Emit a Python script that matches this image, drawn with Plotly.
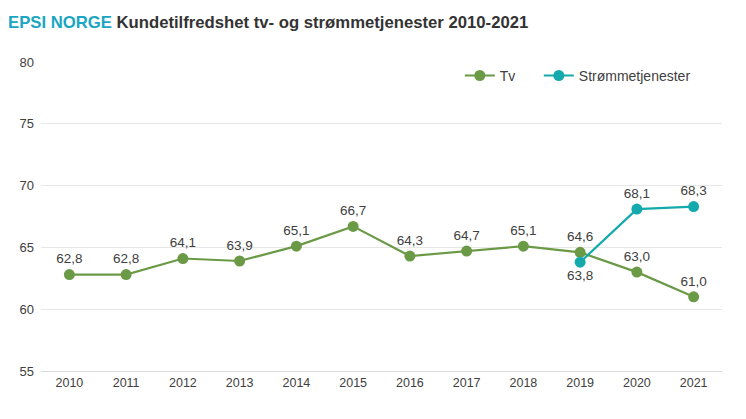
import plotly.graph_objects as go

years = ['2010', '2011', '2012', '2013', '2014', '2015', '2016', '2017', '2018', '2019', '2020', '2021']
tv = [62.8, 62.8, 64.1, 63.9, 65.1, 66.7, 64.3, 64.7, 65.1, 64.6, 63.0, 61.0]
stream_years = ['2019', '2020', '2021']
stream = [63.8, 68.1, 68.3]
stream_pos = ['bottom center', 'top center', 'top center']

GREEN = '#6B9A47'
TEAL = '#13A9AD'
FONT = 'Liberation Sans, Arial, sans-serif'


def fmt(v):
    # norwegian decimal comma
    return f'{v:.1f}'.replace('.', ',')


fig = go.Figure()
fig.add_trace(go.Scatter(
    x=years, y=tv, name='Tv', mode='lines+markers+text',
    line=dict(color=GREEN, width=2.2),
    marker=dict(color=GREEN, size=11),
    text=[fmt(v) for v in tv], textposition='top center',
    textfont=dict(size=13.5, color='#404040', family=FONT),
    cliponaxis=False, legend='legend', showlegend=True,
))
fig.add_trace(go.Scatter(
    x=stream_years, y=stream, name='Strømmetjenester', mode='lines+markers+text',
    line=dict(color=TEAL, width=2.2),
    marker=dict(color=TEAL, size=11),
    text=[fmt(v) for v in stream], textposition=stream_pos,
    textfont=dict(size=13.5, color='#404040', family=FONT),
    cliponaxis=False, legend='legend2', showlegend=True,
))

legend_style = dict(
    orientation='h', xanchor='left', y=0.955, yanchor='middle',
    font=dict(size=14, color='#404040'), bgcolor='rgba(0,0,0,0)',
    itemwidth=30,
)

# page has 8px body margin, so the figure is a bit smaller than the window
fig.update_layout(
    width=738, height=411,
    showlegend=True,
    margin=dict(l=29, r=24, t=54, b=48),
    paper_bgcolor='white', plot_bgcolor='white',
    font=dict(family=FONT, color='#404040', size=12),
    title=dict(
        text="<span style='color:#1AA6C3'>EPSI NORGE</span> Kundetilfredshet tv- og strømmetjenester 2010-2021",
        xref='container', x=0, xanchor='left', y=0.965, yanchor='middle',
        pad=dict(l=0),
        font=dict(size=16.7, color='#333333', family=FONT, weight='bold'),
    ),
    legend=dict(legend_style, x=0.615),
    legend2=dict(legend_style, x=0.731),
    xaxis=dict(
        type='category', range=[-0.5, 11.5], showgrid=False,
        showline=True, linecolor='#D9D9D9', linewidth=1,
        ticks='', tickfont=dict(size=12.5, color='#404040'),
    ),
    yaxis=dict(
        range=[55, 80], dtick=5, showgrid=True, gridcolor='#E6E6E6',
        zeroline=False, ticks='', tickfont=dict(size=13, color='#404040'),
        ticklabelstandoff=6,
    ),
)

fig.write_html('out.html')
